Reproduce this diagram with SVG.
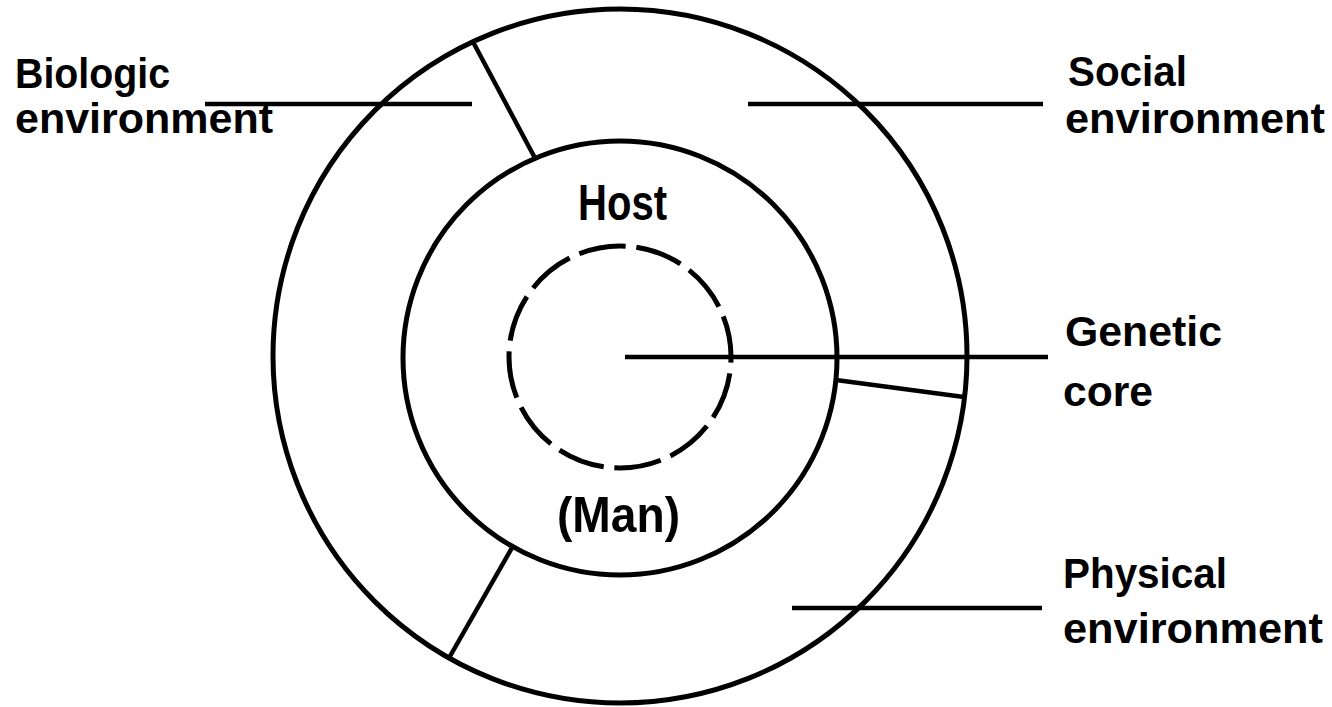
<svg xmlns="http://www.w3.org/2000/svg" width="1332" height="707" viewBox="0 0 1332 707">
  <style>
    .ring { fill: none; stroke: #000; stroke-width: 5; }
    .dash { fill: none; stroke: #000; stroke-width: 5; stroke-dasharray: 24.5 5.5; stroke-dashoffset: 21.5; }
    .ln { stroke: #000; stroke-width: 4.5; stroke-linecap: butt; fill: none; }
    .lbl { font-family: "Liberation Sans", Arial, sans-serif; font-weight: bold; font-size: 43px; fill: #000; }
    .ctr { font-family: "Liberation Sans", Arial, sans-serif; font-weight: bold; font-size: 50px; fill: #000; }
  </style>
  <rect width="1332" height="707" fill="#fff"/>
  <g id="outer-ring">
    <circle class="ring" cx="620" cy="356" r="347"/>
  </g>
  <g id="host">
    <circle class="ring" cx="620" cy="358" r="217"/>
    <text class="ctr" x="578" y="220" textLength="89" lengthAdjust="spacingAndGlyphs">Host</text>
    <text class="ctr" x="557" y="532" textLength="123" lengthAdjust="spacingAndGlyphs">(Man)</text>
  </g>
  <g id="genetic-core">
    <circle class="dash" cx="620" cy="357" r="111" pathLength="360"/>
  </g>
  <g id="dividers">
    <line class="ln" x1="472" y1="40" x2="536" y2="160"/>
    <line class="ln" x1="836" y1="380" x2="964" y2="397"/>
    <line class="ln" x1="513" y1="546" x2="449" y2="658"/>
  </g>
  <g id="connectors">
    <line class="ln" x1="205" y1="104" x2="472" y2="104"/>
    <line class="ln" x1="748" y1="104" x2="1043" y2="104"/>
    <line class="ln" x1="625" y1="357" x2="1048" y2="357"/>
    <line class="ln" x1="792" y1="608" x2="1042" y2="608"/>
  </g>
  <g id="label-biologic">
    <text class="lbl" x="15" y="88" textLength="155" lengthAdjust="spacingAndGlyphs">Biologic</text>
    <text class="lbl" x="15" y="133" textLength="258" lengthAdjust="spacingAndGlyphs">environment</text>
  </g>
  <g id="label-social">
    <text class="lbl" x="1068" y="86" textLength="119" lengthAdjust="spacingAndGlyphs">Social</text>
    <text class="lbl" x="1065" y="133" textLength="260" lengthAdjust="spacingAndGlyphs">environment</text>
  </g>
  <g id="label-genetic">
    <text class="lbl" x="1065" y="346" textLength="157" lengthAdjust="spacingAndGlyphs">Genetic</text>
    <text class="lbl" x="1063" y="406" textLength="90" lengthAdjust="spacingAndGlyphs">core</text>
  </g>
  <g id="label-physical">
    <text class="lbl" x="1063" y="588" textLength="164" lengthAdjust="spacingAndGlyphs">Physical</text>
    <text class="lbl" x="1063" y="643" textLength="260" lengthAdjust="spacingAndGlyphs">environment</text>
  </g>
</svg>
